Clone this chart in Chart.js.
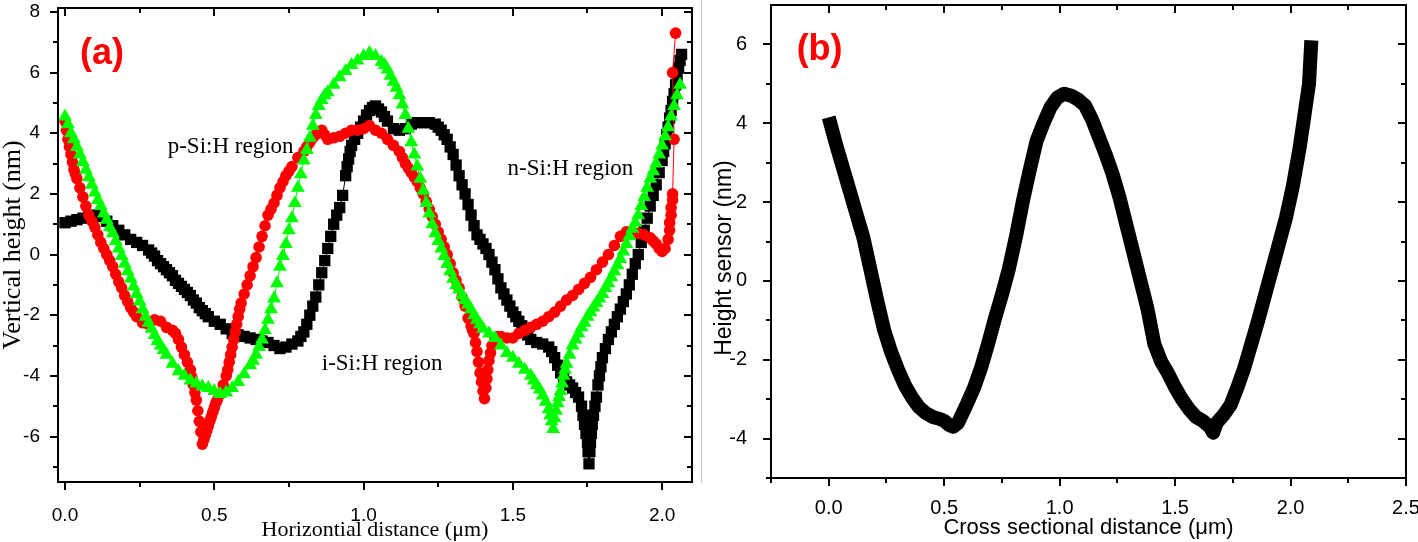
<!DOCTYPE html>
<html><head><meta charset="utf-8">
<script src="https://cdn.jsdelivr.net/npm/chart.js@4.4.1/dist/chart.umd.min.js"></script>
<style>
html,body{margin:0;padding:0;background:#fff;}
#wrap{position:relative;width:1418px;height:542px;overflow:hidden;background:#fff;}
#ca{position:absolute;left:0;top:0;width:700px;height:542px;}
#cb{position:absolute;left:700px;top:0;width:718px;height:542px;}
#sep{position:absolute;left:701px;top:0;width:1px;height:483px;background:#c8c8c8;}
</style></head><body>
<div id="wrap"><canvas id="ca" width="700" height="542"></canvas><div id="sep"></div><canvas id="cb" width="718" height="542"></canvas></div>
<script>
// ---------- Panel (a) data ----------
const blackX = [
  0.00,0.02,0.04,0.06,0.08,0.10,0.12,0.14,0.16,0.18,
  0.20,0.22,0.24,0.26,0.28,0.29,0.30,0.31,0.32,0.33,
  0.34,0.35,0.36,0.37,0.38,0.39,0.40,0.41,0.42,0.43,
  0.44,0.45,0.46,0.47,0.48,0.50,0.52,0.54,0.56,0.58,
  0.60,0.62,0.64,0.66,0.68,0.70,0.72,0.74,0.76,0.78,
  0.79,0.80,0.81,0.82,0.83,0.84,0.85,0.86,0.87,0.88,
  0.89,0.90,0.91,0.92,0.93,0.94,0.945,0.95,0.955,0.96,
  0.97,0.98,0.99,1.00,1.01,1.02,1.03,1.04,1.05,1.06,
  1.07,1.08,1.10,1.12,1.14,1.16,1.18,1.20,1.22,1.24,
  1.25,1.26,1.27,1.28,1.29,1.30,1.31,1.32,1.33,1.34,
  1.35,1.36,1.37,1.38,1.39,1.40,1.41,1.42,1.43,1.44,
  1.45,1.46,1.47,1.48,1.49,1.50,1.51,1.52,1.53,1.54,
  1.55,1.56,1.58,1.60,1.62,1.63,1.64,1.65,1.66,1.67,
  1.68,1.69,1.70,1.71,1.72,1.73,1.735,1.74,1.745,1.75,
  1.752,1.755,1.758,1.76,1.763,1.766,1.77,1.775,1.78,1.785,
  1.79,1.795,1.80,1.81,1.82,1.83,1.84,1.85,1.86,1.87,
  1.88,1.89,1.90,1.91,1.92,1.93,1.94,1.95,1.96,1.97,
  1.98,1.99,2.00,2.005,2.01,2.015,2.02,2.025,2.03,2.035,
  2.04,2.045,2.05,2.055,2.06,2.065];
const blackY = [
  1.05,1.1,1.15,1.2,1.25,1.3,1.25,1.1,0.95,0.8,
  0.65,0.5,0.4,0.3,0.15,0.05,-0.05,-0.2,-0.3,-0.4,
  -0.5,-0.6,-0.7,-0.85,-0.95,-1.05,-1.15,-1.25,-1.35,-1.5,
  -1.6,-1.75,-1.85,-1.95,-2.05,-2.2,-2.3,-2.45,-2.6,-2.65,
  -2.7,-2.75,-2.8,-2.85,-2.9,-3.0,-3.1,-3.05,-2.95,-2.85,
  -2.7,-2.55,-2.3,-2.0,-1.7,-1.4,-1.0,-0.6,-0.2,0.2,
  0.6,1.0,1.3,1.55,1.95,2.6,2.9,3.15,3.4,3.6,
  3.8,4.0,4.2,4.4,4.6,4.75,4.85,4.9,4.8,4.7,
  4.55,4.4,4.15,4.1,4.15,4.3,4.35,4.35,4.35,4.3,
  4.2,4.1,3.95,3.8,3.55,3.3,2.95,2.6,2.3,2.0,
  1.65,1.3,0.95,0.65,0.5,0.35,0.2,0.0,-0.25,-0.5,
  -0.8,-1.1,-1.3,-1.5,-1.7,-1.9,-2.05,-2.2,-2.35,-2.45,
  -2.65,-2.8,-2.9,-2.95,-3.05,-3.2,-3.4,-3.65,-3.9,-4.05,
  -4.2,-4.3,-4.4,-4.55,-4.7,-5.0,-5.3,-5.6,-5.9,-6.2,
  -6.5,-6.9,-6.5,-6.2,-5.9,-5.6,-5.3,-5.0,-4.7,-4.3,
  -4.0,-3.7,-3.4,-3.1,-2.8,-2.55,-2.3,-2.05,-1.8,-1.55,
  -1.3,-1.0,-0.65,-0.3,0.0,0.4,0.8,1.2,1.6,1.95,
  2.3,2.7,3.1,3.4,3.65,3.95,4.2,4.5,4.75,5.05,
  5.3,5.6,5.9,6.15,6.4,6.6];

const redX = [
  0.00,0.005,0.01,0.015,0.02,0.025,0.03,0.035,0.04,0.05,
  0.06,0.07,0.08,0.09,0.10,0.11,0.12,0.13,0.14,0.15,
  0.16,0.17,0.18,0.19,0.20,0.21,0.22,0.23,0.24,0.26,
  0.28,0.30,0.32,0.34,0.36,0.37,0.38,0.39,0.40,0.41,
  0.42,0.425,0.43,0.435,0.44,0.445,0.45,0.455,0.46,0.465,
  0.47,0.475,0.48,0.485,0.49,0.495,0.50,0.505,0.51,0.52,
  0.53,0.54,0.545,0.55,0.555,0.56,0.565,0.57,0.575,0.58,
  0.585,0.59,0.60,0.61,0.62,0.63,0.64,0.65,0.66,0.67,
  0.68,0.69,0.70,0.71,0.72,0.73,0.74,0.75,0.76,0.78,
  0.80,0.81,0.82,0.83,0.84,0.85,0.86,0.87,0.88,0.90,
  0.92,0.94,0.96,0.98,1.00,1.02,1.04,1.06,1.08,1.10,
  1.12,1.13,1.14,1.15,1.16,1.17,1.18,1.19,1.20,1.21,
  1.22,1.23,1.24,1.25,1.26,1.27,1.28,1.29,1.30,1.31,
  1.32,1.33,1.34,1.35,1.36,1.365,1.37,1.375,1.38,1.385,
  1.39,1.395,1.40,1.405,1.41,1.413,1.416,1.42,1.425,1.43,
  1.44,1.45,1.46,1.48,1.50,1.52,1.54,1.56,1.58,1.60,
  1.62,1.64,1.66,1.68,1.70,1.72,1.74,1.76,1.78,1.80,
  1.82,1.84,1.86,1.88,1.90,1.92,1.94,1.96,1.97,1.98,
  1.99,2.00,2.01,2.02,2.025,2.025,2.03,2.03,2.035,2.035,
  2.04,2.035,2.045];
const redY = [
  4.4,4.1,3.8,3.55,3.3,3.05,2.8,2.65,2.5,2.2,
  1.9,1.6,1.3,1.1,0.9,0.65,0.4,0.2,0.0,-0.2,
  -0.4,-0.65,-0.9,-1.1,-1.35,-1.55,-1.75,-1.9,-2.05,-2.25,
  -2.3,-2.15,-2.2,-2.4,-2.5,-2.6,-2.8,-3.05,-3.3,-3.55,
  -3.8,-4.05,-4.3,-4.55,-4.8,-5.15,-5.5,-5.85,-6.25,-6.1,
  -5.95,-5.8,-5.65,-5.5,-5.35,-5.2,-5.05,-4.9,-4.8,-4.6,
  -4.3,-4.0,-3.8,-3.55,-3.3,-3.05,-2.8,-2.55,-2.3,-2.05,
  -1.8,-1.6,-1.3,-1.0,-0.7,-0.4,-0.1,0.25,0.6,0.95,
  1.3,1.5,1.7,1.95,2.2,2.4,2.6,2.75,2.9,3.2,
  3.4,3.55,3.7,3.85,3.95,4.05,4.1,3.95,3.8,3.85,
  3.9,4.0,4.1,4.1,4.15,4.25,4.1,4.0,3.8,3.6,
  3.4,3.2,3.0,2.85,2.7,2.55,2.4,2.2,2.0,1.75,
  1.5,1.25,1.0,0.75,0.5,0.25,0.0,-0.3,-0.6,-0.85,
  -1.1,-1.4,-1.7,-2.1,-2.35,-2.5,-2.6,-2.9,-3.2,-3.55,
  -3.9,-4.2,-4.5,-4.75,-4.4,-4.1,-3.8,-3.5,-3.25,-3.0,
  -2.75,-2.7,-2.7,-2.75,-2.75,-2.6,-2.5,-2.4,-2.3,-2.2,
  -2.05,-1.9,-1.7,-1.5,-1.35,-1.15,-0.95,-0.75,-0.5,-0.25,
  0.0,0.3,0.6,0.75,0.75,0.7,0.65,0.55,0.45,0.35,
  0.2,0.1,0.2,0.5,0.8,1.05,1.3,1.55,1.8,2.0,
  3.8,6.0,7.3];

const greenX = [
  0.00,0.01,0.02,0.03,0.04,0.05,0.06,0.07,0.08,0.09,
  0.10,0.11,0.12,0.13,0.14,0.15,0.16,0.17,0.18,0.19,
  0.20,0.21,0.22,0.23,0.24,0.25,0.26,0.27,0.28,0.29,
  0.30,0.31,0.32,0.33,0.34,0.36,0.38,0.40,0.42,0.44,
  0.46,0.48,0.50,0.52,0.54,0.56,0.58,0.60,0.62,0.63,
  0.64,0.65,0.66,0.67,0.68,0.69,0.70,0.71,0.72,0.73,
  0.74,0.75,0.76,0.77,0.78,0.79,0.80,0.81,0.82,0.83,
  0.84,0.85,0.86,0.87,0.88,0.90,0.92,0.94,0.96,0.98,
  1.00,1.02,1.04,1.06,1.07,1.08,1.09,1.10,1.11,1.12,
  1.13,1.14,1.15,1.16,1.17,1.18,1.19,1.20,1.21,1.22,
  1.23,1.24,1.25,1.26,1.27,1.28,1.29,1.30,1.31,1.32,
  1.33,1.34,1.35,1.36,1.37,1.38,1.39,1.40,1.42,1.44,
  1.46,1.48,1.50,1.52,1.54,1.56,1.57,1.58,1.59,1.60,
  1.61,1.62,1.625,1.63,1.635,1.64,1.645,1.65,1.655,1.66,
  1.665,1.67,1.675,1.68,1.69,1.70,1.71,1.72,1.73,1.74,
  1.75,1.76,1.77,1.78,1.79,1.80,1.81,1.82,1.83,1.84,
  1.85,1.86,1.87,1.88,1.89,1.90,1.91,1.92,1.93,1.94,
  1.95,1.96,1.97,1.98,1.99,2.00,2.01,2.02,2.03,2.04,
  2.05,2.06];
const greenY = [
  4.55,4.3,4.0,3.8,3.55,3.3,3.05,2.8,2.55,2.3,
  2.05,1.8,1.6,1.35,1.15,0.9,0.7,0.45,0.2,-0.05,
  -0.3,-0.55,-0.8,-1.05,-1.3,-1.55,-1.8,-2.05,-2.25,-2.45,
  -2.65,-2.85,-3.0,-3.15,-3.3,-3.6,-3.85,-4.0,-4.15,-4.25,
  -4.35,-4.4,-4.5,-4.6,-4.55,-4.4,-4.2,-3.95,-3.65,-3.5,
  -3.3,-3.05,-2.8,-2.5,-2.15,-1.8,-1.45,-0.95,-0.4,-0.05,
  0.35,0.8,1.2,1.7,2.2,2.65,3.1,3.45,3.85,4.25,
  4.6,4.9,5.1,5.25,5.35,5.6,5.85,6.05,6.25,6.4,
  6.55,6.65,6.55,6.35,6.25,6.1,5.9,5.7,5.5,5.25,
  4.95,4.6,4.15,3.7,3.3,2.9,2.5,2.1,1.7,1.35,
  1.0,0.7,0.45,0.2,-0.05,-0.3,-0.55,-0.8,-1.0,-1.15,
  -1.35,-1.5,-1.65,-1.8,-2.0,-2.15,-2.3,-2.45,-2.6,-2.75,
  -3.0,-3.25,-3.4,-3.6,-3.8,-4.0,-4.15,-4.3,-4.45,-4.65,
  -4.85,-5.1,-5.3,-5.5,-5.75,-5.4,-5.15,-4.9,-4.7,-4.5,
  -4.25,-4.0,-3.8,-3.6,-3.3,-3.0,-2.8,-2.6,-2.4,-2.25,
  -2.05,-1.9,-1.75,-1.6,-1.45,-1.3,-1.1,-0.95,-0.75,-0.55,
  -0.35,-0.15,0.1,0.35,0.6,0.85,1.05,1.3,1.6,1.9,
  2.2,2.5,2.75,3.0,3.3,3.6,3.9,4.2,4.55,4.9,
  5.25,5.6];

// ---------- Panel (b) data ----------
const profileX = [0.00,0.03,0.06,0.09,0.12,0.15,0.18,0.21,0.24,0.27,0.30,0.33,0.36,0.39,0.42,0.45,0.48,0.50,0.52,0.54,0.56,0.58,0.60,0.63,0.66,0.69,0.72,0.75,0.78,0.81,0.84,0.87,0.90,0.93,0.96,0.99,1.02,1.05,1.08,1.11,1.14,1.17,1.20,1.23,1.26,1.29,1.32,1.35,1.38,1.41,1.44,1.47,1.50,1.53,1.56,1.59,1.62,1.65,1.665,1.68,1.71,1.74,1.77,1.80,1.83,1.86,1.89,1.92,1.95,1.98,2.01,2.04,2.06,2.08,2.09];
const profileY = [4.15,3.5,2.9,2.3,1.7,1.1,0.3,-0.5,-1.25,-1.8,-2.25,-2.65,-2.95,-3.2,-3.35,-3.45,-3.5,-3.55,-3.65,-3.7,-3.6,-3.35,-3.1,-2.7,-2.2,-1.6,-0.95,-0.35,0.3,1.1,2.0,2.8,3.55,4.0,4.4,4.65,4.75,4.7,4.6,4.45,4.1,3.65,3.2,2.7,2.1,1.4,0.7,0.0,-0.7,-1.6,-2.05,-2.35,-2.7,-3.0,-3.25,-3.45,-3.55,-3.7,-3.85,-3.6,-3.4,-3.15,-2.7,-2.2,-1.6,-1.0,-0.35,0.3,0.95,1.6,2.4,3.4,4.2,5.0,6.1];

// ---------- Ticks ----------
const aXMajor = [0, 0.5, 1.0, 1.5, 2.0];
const aXMinor = [0.25, 0.75, 1.25, 1.75];
const aYMajor = [-6, -4, -2, 0, 2, 4, 6, 8];
const aYMinor = [-7, -5, -3, -1, 1, 3, 5, 7];
const bXMajor = [0, 0.5, 1.0, 1.5, 2.0, 2.5];
const bXMinor = [-0.25, 0.25, 0.75, 1.25, 1.75, 2.25];
const bYMajor = [-4, -2, 0, 2, 4, 6];
const bYMinor = [-5, -3, -1, 1, 3, 5];

const pairs = (xs, ys) => xs.map((x, i) => ({x: x, y: ys[i]}));

const frameTicks = {
  id: 'frameTicks',
  afterDatasetsDraw(chart, args, o) {
    const {ctx, chartArea: a, scales: {x, y}} = chart;
    ctx.save();
    ctx.strokeStyle = '#000';
    ctx.lineWidth = 2;
    const seg = (x1, y1, x2, y2) => { ctx.beginPath(); ctx.moveTo(x1, y1); ctx.lineTo(x2, y2); ctx.stroke(); };
    const xt = (vals, len) => vals.forEach(v => { const p = Math.round(x.getPixelForValue(v)); seg(p, a.bottom, p, a.bottom + len); seg(p, a.top, p, a.top + len); });
    const yt = (vals, len) => vals.forEach(v => { const p = Math.round(y.getPixelForValue(v)); seg(a.left, p, a.left - len, p); seg(a.right, p, a.right - len, p); });
    xt(o.xMajor, 8); xt(o.xMinor, 5); yt(o.yMajor, 8); yt(o.yMinor, 5);
    ctx.strokeRect(a.left, a.top, a.right - a.left, a.bottom - a.top);
    ctx.restore();
  }
};

const notes = {
  id: 'notes',
  afterDraw(chart, args, o) {
    const {ctx, scales: {x, y}} = chart;
    (o.items || []).forEach(it => {
      ctx.save();
      ctx.font = it.font;
      ctx.fillStyle = it.color;
      ctx.textAlign = it.align || 'left';
      ctx.textBaseline = it.base;
      ctx.translate(x.getPixelForValue(it.x), y.getPixelForValue(it.y));
      if (it.rot) ctx.rotate(-Math.PI / 2);
      ctx.fillText(it.text, 0, 0);
      ctx.restore();
    });
  }
};

function fixX(h) { return s => { s.height = h; s.paddingLeft = 0; s.paddingRight = 0; s.paddingTop = 0; s.paddingBottom = 0; }; }
function fixY(w) { return s => { s.width = w; s.paddingLeft = 0; s.paddingRight = 0; s.paddingTop = 0; s.paddingBottom = 0; }; }
function setTicks(vals) { return s => { s.ticks = vals.map(v => ({value: v})); }; }

const SANS = '"Liberation Sans", Arial, sans-serif';
const SERIF = '"Liberation Serif", "Times New Roman", serif';

new Chart(document.getElementById('ca'), {
  type: 'scatter',
  data: {
    datasets: [
      {label: 'black', data: pairs(blackX, blackY), showLine: true, borderColor: '#000', borderWidth: 1,
       pointStyle: 'rect', pointRadius: 8, pointBackgroundColor: '#000', pointBorderColor: '#000', pointBorderWidth: 0, order: 3},
      {label: 'red', data: pairs(redX, redY), showLine: true, borderColor: '#ff0000', borderWidth: 1,
       pointStyle: 'circle', pointRadius: 5.8, pointBackgroundColor: '#ff0000', pointBorderColor: '#ff0000', pointBorderWidth: 0, order: 2},
      {label: 'green', data: pairs(greenX, greenY), showLine: true, borderColor: '#00ff00', borderWidth: 1,
       pointStyle: 'triangle', pointRadius: 8, pointBackgroundColor: '#00ff00', pointBorderColor: '#00ff00', pointBorderWidth: 0, order: 1}
    ]
  },
  options: {
    responsive: false, animation: false, devicePixelRatio: 1,
    layout: {padding: {left: 0, right: 7, top: 3, bottom: 0}},
    plugins: {
      legend: {display: false}, tooltip: {enabled: false},
      frameTicks: {xMajor: aXMajor, xMinor: aXMinor, yMajor: aYMajor, yMinor: aYMinor},
      notes: {items: [
        {text: '(a)', x: 0.05, y: 6.62, font: 'bold 36px ' + SANS, color: '#ff0000', base: 'middle'},
        {text: 'p-Si:H region', x: 0.344, y: 3.36, font: '23px ' + SERIF, color: '#000', base: 'alphabetic'},
        {text: 'n-Si:H region', x: 1.482, y: 2.61, font: '23px ' + SERIF, color: '#000', base: 'alphabetic'},
        {text: 'i-Si:H region', x: 0.86, y: -3.82, font: '23px ' + SERIF, color: '#000', base: 'alphabetic'}
      ]}
    },
    scales: {
      x: {type: 'linear', min: -0.0234, max: 2.1, afterBuildTicks: setTicks(aXMajor), afterFit: fixX(60),
          grid: {display: false}, border: {display: false},
          ticks: {padding: 14, color: '#000', font: {family: SANS, size: 19}, maxRotation: 0, autoSkip: false, callback: v => v.toFixed(1)},
          title: {display: true, text: 'Horizontial distance (\u03bcm)', color: '#000', font: {family: SERIF, size: 22, lineHeight: 1}, padding: {top: 0, bottom: 1}}},
      y: {type: 'linear', min: -7.5, max: 8.13, afterBuildTicks: setTicks(aYMajor), afterFit: fixY(58),
          grid: {display: false}, border: {display: false},
          ticks: {padding: 10, color: '#000', font: {family: SANS, size: 19}, autoSkip: false, callback: v => String(v)},
          title: {display: true, text: 'Vertical height (nm)', color: '#000', font: {family: SERIF, size: 26, lineHeight: 1}, padding: {top: 0, bottom: 0}}}
    }
  },
  plugins: [frameTicks, notes]
});

new Chart(document.getElementById('cb'), {
  type: 'scatter',
  data: {
    datasets: [
      {label: 'profile', data: pairs(profileX, profileY), showLine: true, borderColor: '#000', borderWidth: 14,
       borderJoinStyle: 'round', borderCapStyle: 'butt', pointRadius: 0, tension: 0}
    ]
  },
  options: {
    responsive: false, animation: false, devicePixelRatio: 1,
    layout: {padding: {left: 0, right: 12, top: 5, bottom: 0}},
    plugins: {
      legend: {display: false}, tooltip: {enabled: false},
      frameTicks: {xMajor: bXMajor, xMinor: bXMinor, yMajor: bYMajor, yMinor: bYMinor},
      notes: {items: [
        {text: '(b)', x: -0.139, y: 5.85, font: 'bold 36px ' + SANS, color: '#ff0000', base: 'middle'},
        {text: 'Height sensor (nm)', x: -0.452, y: 0.58, font: '23px ' + SANS, color: '#000', base: 'middle', align: 'center', rot: true}
      ]}
    },
    scales: {
      x: {type: 'linear', min: -0.25, max: 2.5, afterBuildTicks: setTicks(bXMajor), afterFit: fixX(64),
          grid: {display: false}, border: {display: false},
          ticks: {padding: 10, color: '#000', font: {family: SANS, size: 20}, maxRotation: 0, autoSkip: false, callback: v => v.toFixed(1)},
          title: {display: true, text: 'Cross sectional distance (\u03bcm)', color: '#000', font: {family: SANS, size: 22, lineHeight: 1}, padding: {top: 0, bottom: 3}}},
      y: {type: 'linear', min: -5, max: 7, afterBuildTicks: setTicks(bYMajor), afterFit: fixY(71),
          grid: {display: false}, border: {display: false},
          ticks: {padding: 16, color: '#000', font: {family: SANS, size: 20}, autoSkip: false, callback: v => String(v)}}
    }
  },
  plugins: [frameTicks, notes]
});
</script>
</body></html>
